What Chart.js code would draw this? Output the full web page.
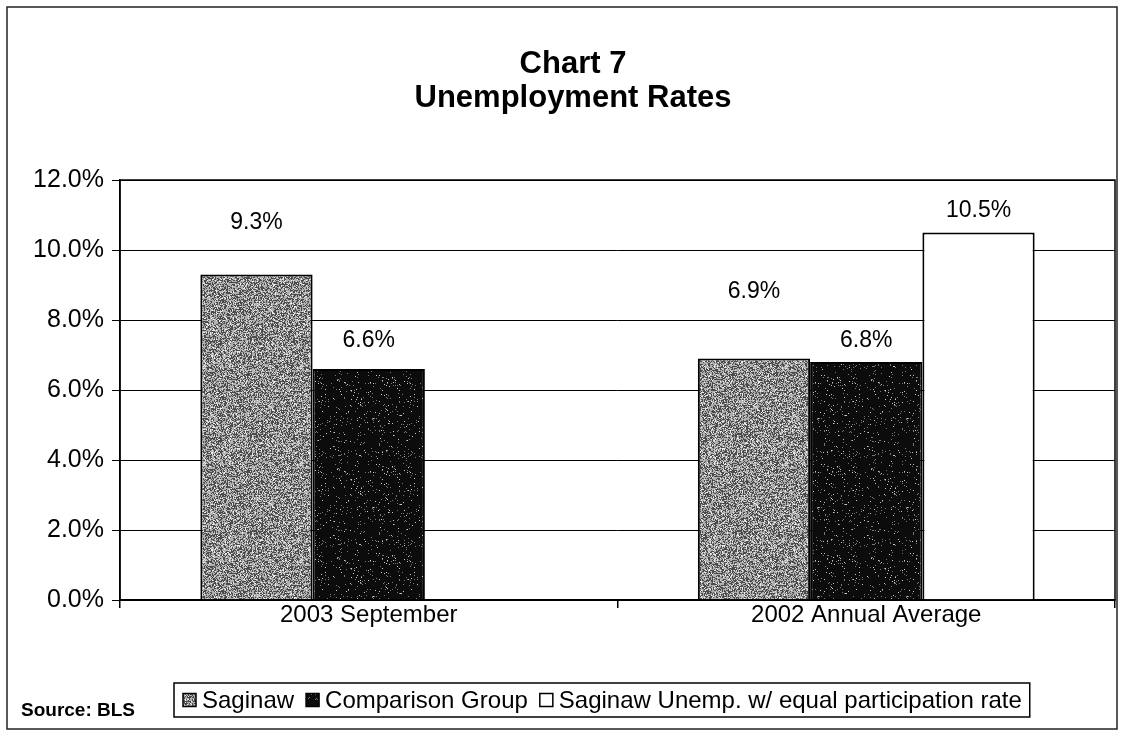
<!DOCTYPE html>
<html>
<head>
<meta charset="utf-8">
<title>Chart 7 - Unemployment Rates</title>
<script src="https://cdn.jsdelivr.net/npm/chart.js@4.4.1/dist/chart.umd.min.js"></script>
<style>
  html, body { margin: 0; padding: 0; background: #fff; }
  canvas { display: block; }
</style>
</head>
<body>
<canvas id="chart" width="1125" height="736"></canvas>
<script>
// Unemployment rates (%) by period
const categories = ['2003 September', '2002 Annual Average'];
const saginaw = [9.3, 6.9];
const comparisonGroup = [6.6, 6.8];
const equalParticipation = [null, 10.5];
const seriesNames = ['Saginaw', 'Comparison Group', 'Saginaw Unemp. w/ equal participation rate'];
const yTickValues = [0, 2, 4, 6, 8, 10, 12];
const titleLines = ['Chart 7', 'Unemployment Rates'];
const sourceNote = 'Source: BLS';

const FONT = "'Liberation Sans', Arial, Helvetica, sans-serif";
const canvas = document.getElementById('chart');
const ctx = canvas.getContext('2d');

// Grainy fill textures for the bars (deterministic speckle)
function speckle(size, seed, shade) {
  const c = document.createElement('canvas');
  c.width = c.height = size;
  const g = c.getContext('2d');
  const img = g.createImageData(size, size);
  let s = seed;
  for (let i = 0; i < size * size; i++) {
    s = (s * 1103515245 + 12345) & 0x7fffffff;
    const v = shade(s / 0x7fffffff);
    img.data[i * 4] = img.data[i * 4 + 1] = img.data[i * 4 + 2] = v;
    img.data[i * 4 + 3] = 255;
  }
  g.putImageData(img, 0, 0);
  return ctx.createPattern(c, 'repeat');
}
const grayFill = speckle(97, 17, r => (r < 0.42 ? 75 : r < 0.88 ? 175 : 235));
const darkFill = speckle(89, 5, r => (r < 0.95 ? 12 : r < 0.985 ? 120 : 200));

// Two-line bold heading
const heading = {
  id: 'heading',
  afterDraw(chart, args, opts) {
    const c = chart.ctx;
    c.save();
    c.fillStyle = '#000';
    c.font = `bold ${opts.size}px ${FONT}`;
    c.textAlign = 'center';
    c.textBaseline = 'middle';
    titleLines.forEach((t, i) => c.fillText(t, opts.x, opts.y + i * opts.lineGap));
    c.restore();
  }
};

// Value labels above the bars; lift = pixels above the bar top
const valueLabels = {
  id: 'valueLabels',
  afterDatasetsDraw(chart, args, opts) {
    const c = chart.ctx;
    c.save();
    c.font = `${opts.size}px ${FONT}`;
    c.fillStyle = '#000';
    c.textAlign = 'center';
    c.textBaseline = 'middle';
    chart.data.datasets.forEach((ds, i) => {
      chart.getDatasetMeta(i).data.forEach((bar, j) => {
        const v = ds.data[j];
        if (v === null || v === undefined) return;
        c.fillText(v.toFixed(1) + '%', bar.x, bar.y - opts.lift[i][j]);
      });
    });
    c.restore();
  }
};

// Outer frame, plot-area outline, boxed legend and source note
const frame = {
  id: 'frame',
  afterDraw(chart, args, opts) {
    const c = chart.ctx;
    const a = chart.chartArea;
    c.save();
    c.strokeStyle = '#000';
    c.lineWidth = 1.5;
    c.strokeRect(a.left, a.top, a.right - a.left, a.bottom - a.top);

    c.strokeStyle = '#222';
    c.strokeRect(opts.outer.x, opts.outer.y, opts.outer.w, opts.outer.h);

    // source note
    c.fillStyle = '#000';
    c.font = `bold 19px ${FONT}`;
    c.textAlign = 'left';
    c.textBaseline = 'middle';
    c.fillText(sourceNote, 21, opts.sourceY);

    // legend box sized to its entries
    const L = opts.legend;
    const m = 13;
    c.font = `${L.size}px ${FONT}`;
    let w = 9;
    chart.data.datasets.forEach((ds, i) => {
      w += m + 6 + c.measureText(ds.label).width + (i < chart.data.datasets.length - 1 ? L.gap : 8);
    });
    c.lineWidth = 1.5;
    c.strokeStyle = '#000';
    c.fillStyle = '#fff';
    c.fillRect(L.x, L.y, w, L.h);
    c.strokeRect(L.x, L.y, w, L.h);
    const cy = L.y + L.h / 2;
    let x = L.x + 9;
    chart.data.datasets.forEach((ds) => {
      c.fillStyle = ds.backgroundColor;
      c.fillRect(x, cy - m / 2, m, m);
      c.lineWidth = 1.5;
      c.strokeStyle = '#000';
      c.strokeRect(x, cy - m / 2, m, m);
      x += m + 6;
      c.fillStyle = '#000';
      c.fillText(ds.label, x, cy + 1);
      x += c.measureText(ds.label).width + L.gap;
    });
    c.restore();
  }
};

new Chart(ctx, {
  type: 'bar',
  data: {
    labels: categories,
    datasets: [
      { label: seriesNames[0], data: saginaw, backgroundColor: grayFill, borderColor: '#000', borderWidth: 2 },
      { label: seriesNames[1], data: comparisonGroup, backgroundColor: darkFill, borderColor: '#000', borderWidth: 2 },
      { label: seriesNames[2], data: equalParticipation, backgroundColor: '#fff', borderColor: '#000', borderWidth: 2 }
    ]
  },
  options: {
    responsive: false,
    animation: false,
    datasets: { bar: { categoryPercentage: 0.677, barPercentage: 1.0 } },
    layout: { padding: { left: 0, right: 10, top: 180, bottom: 96 } },
    plugins: {
      legend: { display: false },
      tooltip: { enabled: false },
      title: { display: false },
      heading: { x: 573, y: 64, lineGap: 34, size: 31 },
      valueLabels: { size: 23, lift: [[52, 67], [28, 21], [0, 22]] },
      frame: {
        outer: { x: 7, y: 7, w: 1110, h: 722 },
        sourceY: 711,
        legend: { x: 174, y: 683, h: 34, size: 24, gap: 12 }
      }
    },
    scales: {
      x: {
        grid: { offset: true, drawOnChartArea: false, color: '#000', lineWidth: 1.5, tickLength: 8 },
        border: { color: '#000', width: 1.5 },
        ticks: { color: '#000', font: { family: FONT, size: 24 }, padding: -7 },
        afterFit(scale) { scale.height = 40; }
      },
      y: {
        min: 0,
        max: 12,
        afterBuildTicks(scale) { scale.ticks = yTickValues.map(v => ({ value: v })); },
        ticks: { color: '#000', font: { family: FONT, size: 25 }, padding: 8, callback: v => v.toFixed(1) + '%' },
        grid: { color: '#000', lineWidth: 1, tickLength: 8 },
        border: { color: '#000', width: 1.5 },
        afterFit(scale) { scale.width = 120; }
      }
    }
  },
  plugins: [heading, valueLabels, frame]
});
</script>
</body>
</html>
